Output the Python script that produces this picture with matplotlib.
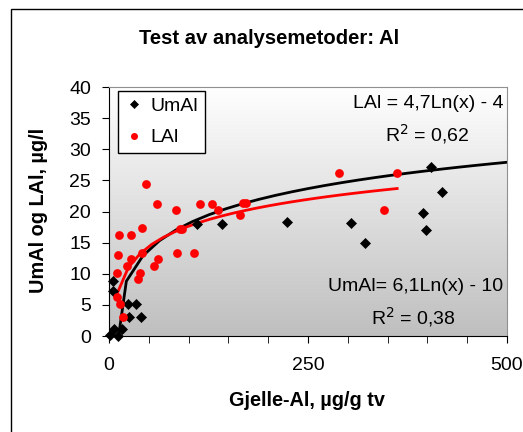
import numpy as np
import matplotlib.pyplot as plt
from matplotlib.patches import Rectangle
from matplotlib.colors import LinearSegmentedColormap

plt.rcParams['font.family'] = ['Liberation Sans', 'DejaVu Sans']

# UmAl measurements (x = gill Al, y = UmAl)
um_x = [1, 6, 11.7, 16, 4.6, 4.6, 24, 34, 25, 40, 110, 142, 223, 304, 322, 395, 398, 405, 418]
um_y = [0.2, 1.2, 0, 1.2, 8.9, 7.2, 5.2, 5.2, 3, 3, 18, 18, 18.3, 18.2, 15, 19.8, 17.1, 27.2, 23.1]

# LAl measurements
lal_x = [9.6, 14, 17, 9.6, 11.7, 13, 23, 27.6, 27.6, 36, 39, 41, 42, 47, 56.5, 62, 60,
         84, 86, 89, 92, 107, 114, 130, 137, 165, 168, 172, 289, 346, 362]
lal_y = [6.3, 5.2, 3, 10.2, 13, 16.2, 11.3, 12.3, 16.2, 9.1, 10.2, 13.3, 17.3, 24.4, 11.3, 12.3, 21.2,
         20.2, 13.3, 17.2, 17.2, 13.3, 21.2, 21.2, 20.3, 19.4, 21.3, 21.3, 26.2, 20.2, 26.2]

# trendline coefficients as printed on the chart: y = a*ln(x) + b
um_a, um_b = 6.1, -10
lal_a, lal_b = 4.7, -4

fig = plt.figure(figsize=(5.23, 4.32), dpi=100)
ax = fig.add_axes([0.2084, 0.2222, 0.761, 0.5764])

# gradient background of the plot area
grad = np.linspace(1, 0, 256).reshape(-1, 1)
cmap = LinearSegmentedColormap.from_list('g', ['#bfbfbf', '#ffffff'])
ax.imshow(grad, cmap=cmap, extent=[0, 500, 0, 40], aspect='auto', origin='upper', zorder=0)

tx = np.linspace(min(um_x), 500, 25)
ax.plot(tx, um_a * np.log(tx) + um_b, color='black', lw=2, zorder=2)
tx2 = np.linspace(min(lal_x), max(lal_x), 25)
ax.plot(tx2, lal_a * np.log(tx2) + lal_b, color='red', lw=2, zorder=2)

ax.plot(um_x, um_y, 'D', color='black', ms=5.2, mew=0.5, label='UmAl', zorder=3, clip_on=False)
ax.plot(lal_x, lal_y, 'o', color='red', ms=6.3, mew=0, label='LAl', zorder=3, clip_on=False)

ax.set_xlim(0, 500)
ax.set_ylim(0, 40)
ax.set_xticks([0, 250, 500])
ax.set_xticks(np.arange(0, 501, 50), minor=True)
ax.set_yticks(np.arange(0, 41, 5))
ax.tick_params(axis='both', which='both', direction='out', length=5, labelsize=14, pad=10)
ax.tick_params(axis='y', pad=8)
for s in ['top', 'right']:
    ax.spines[s].set_color('#909090')
for s in ['left', 'bottom']:
    ax.spines[s].set_color('black')

leg = ax.legend(loc='upper left', bbox_to_anchor=(0.022, 0.985), fontsize=14, frameon=True,
                fancybox=False, edgecolor='black', framealpha=1, handletextpad=0.35,
                handlelength=1.0, borderpad=0.35, labelspacing=0.7, borderaxespad=0,
                markerscale=0.8)
leg.get_frame().set_linewidth(1)

ax.text(0.99, 0.933, 'LAl = 4,7Ln(x) - 4', transform=ax.transAxes, ha='right', va='center', fontsize=14)
ax.text(0.80, 0.81, 'R$^2$ = 0,62', transform=ax.transAxes, ha='center', va='center', fontsize=14)
ax.text(0.99, 0.198, 'UmAl= 6,1Ln(x) - 10', transform=ax.transAxes, ha='right', va='center', fontsize=14)
ax.text(0.765, 0.075, 'R$^2$ = 0,38', transform=ax.transAxes, ha='center', va='center', fontsize=14)

fig.text(0.514, 0.911, 'Test av analysemetoder: Al', ha='center', va='center', fontsize=14.6, fontweight='bold')
fig.text(0.586, 0.074, 'Gjelle-Al, µg/g tv', ha='center', va='center', fontsize=14.3, fontweight='bold')
fig.text(0.073, 0.512, 'UmAl og LAl, µg/l', ha='center', va='center', rotation=90, fontsize=14.3, fontweight='bold')

fig.add_artist(Rectangle((0.021, -0.1), 1.2, 1.079, transform=fig.transFigure, fill=False,
                         edgecolor='black', lw=1))

fig.savefig('out.png', dpi=100)
